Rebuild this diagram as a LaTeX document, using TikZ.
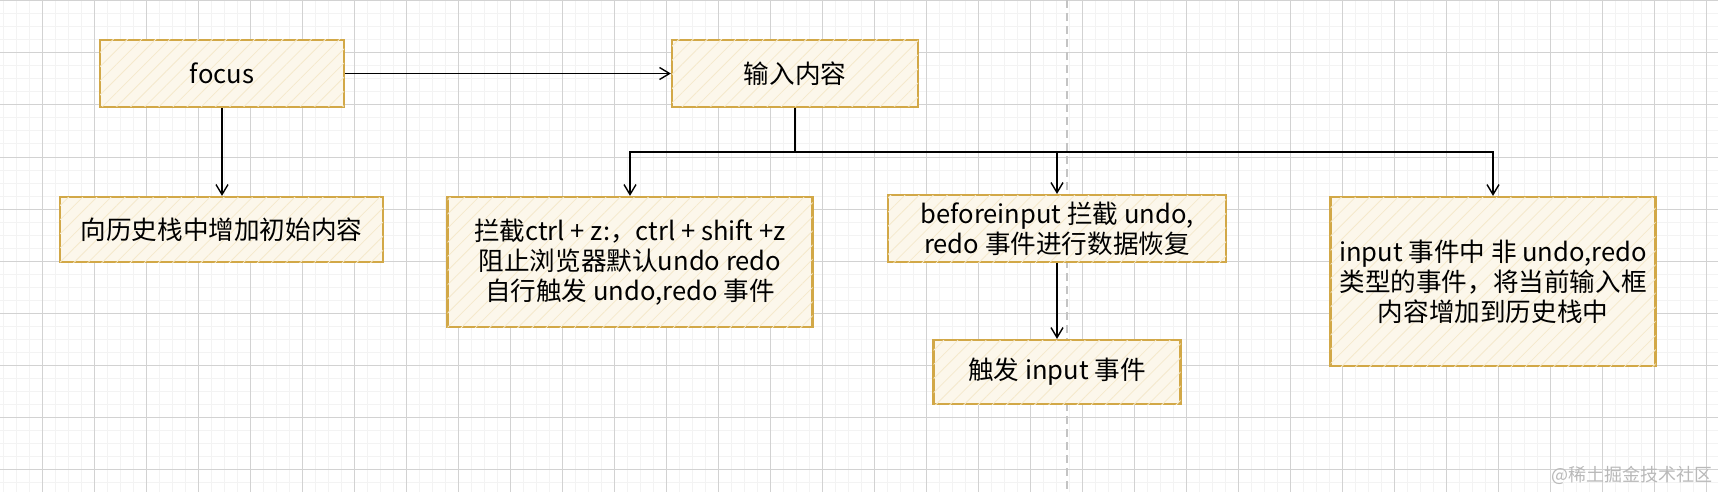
\documentclass[tikz,border=0pt]{standalone}
\usepackage{fontspec}
\setmainfont{Noto Sans CJK SC}
\usetikzlibrary{arrows.meta, positioning, patterns.meta}

\definecolor{boxline}{HTML}{D2A847}
\definecolor{boxfill}{HTML}{FCF7EB}
\definecolor{hatch}{HTML}{F5E9CC}
\definecolor{gridmajor}{HTML}{D2D2D2}
\definecolor{gridminor}{HTML}{F3F3F3}
\definecolor{splitline}{HTML}{C4C4C4}

\begin{document}
\begin{tikzpicture}[
x=0.5pt, y=-0.5pt,
box/.style={draw=boxline, line width=1.1pt, fill=boxfill,
  postaction={pattern={Lines[angle=45,distance=5pt,line width=0.4pt]}, pattern color=hatch},
  align=center, inner sep=0pt, font=\fontsize{12.8}{15}\selectfont},
arrow/.style={-{Straight Barb[length=5pt,width=6pt]}, line width=0.7pt}
]

\useasboundingbox (0,0) rectangle (1718,492);

% ---------- BACKGROUND GRID ----------

\fill[white] (0,0) rectangle (1718,492);
\foreach \gx in {3.3,16.3,...,1718} \draw[gridminor, line width=0.5pt] (\gx,0) -- (\gx,492);
\foreach \gy in {1,14,...,492} \draw[gridminor, line width=0.5pt] (0,\gy) -- (1718,\gy);
\foreach \gx in {-9.7,42.3,...,1718} \draw[gridmajor, line width=0.5pt] (\gx,0) -- (\gx,492);
\foreach \gy in {1,53,...,492} \draw[gridmajor, line width=0.5pt] (0,\gy) -- (1718,\gy);

\draw[splitline, line width=0.8pt, dash pattern=on 4pt off 2.5pt] (1067,0) -- (1067,492);

% ---------- TOP ROW ----------

\node[box, minimum width=122pt, minimum height=33.5pt] (focus) at (222,73.5)
{focus};

\node[box, minimum width=123pt, minimum height=33.5pt] (typing) at (795,73.5)
{输入内容};

% ---------- SECOND ROW ----------

\node[box, minimum width=161.5pt, minimum height=32.5pt] (initstack) at (221.5,229.5)
{向历史栈中增加初始内容};

\node[box, minimum width=182.5pt, minimum height=65pt] (intercept) at (630,262)
{拦截ctrl + z:，ctrl + shift +z\\
阻止浏览器默认undo redo\\
自行触发 undo,redo 事件};

\node[box, minimum width=169pt, minimum height=33.5pt] (beforeinput) at (1057,228.5)
{beforeinput 拦截 undo,\\
redo 事件进行数据恢复};

\node[box, minimum width=162.5pt, minimum height=84.5pt] (pushstack) at (1493,281.5)
{input 事件中 非 undo,redo\\
类型的事件，将当前输入框\\
内容增加到历史栈中};

% ---------- THIRD ROW ----------

\node[box, minimum width=123.5pt, minimum height=32pt] (fireinput) at (1057,372)
{触发 input 事件};

\node[text=gray!55, anchor=east, inner sep=0pt, font=\fontsize{9}{10}\selectfont] (mark) at (1713,475.5)
{@稀土掘金技术社区};

% ---------- ARROWS ----------

\coordinate (split) at (795,152);

\draw[arrow] (focus.east) -- (typing.west);
\draw[arrow] (focus.south) -- (initstack.north -| focus.south);

\draw[line width=0.7pt] (typing.south) -- (split);
\draw[arrow] (split) -| (intercept.north);
\draw[arrow] (split) -| (beforeinput.north);
\draw[arrow] (split) -| (pushstack.north);

\draw[arrow] (beforeinput) -- (fireinput);

\end{tikzpicture}
\end{document}
